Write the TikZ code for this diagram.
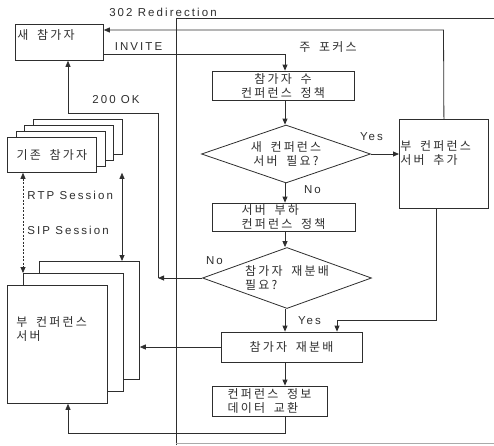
\documentclass[tikz,border=0pt]{standalone}
\usepackage{fontspec}
\setmainfont{Liberation Sans}[LetterSpace=18]
\newfontfamily\krfont{Noto Sans CJK KR}[LetterSpace=18, WordSpace=1.8]
\usetikzlibrary{positioning, arrows.meta, shapes.geometric}
\definecolor{cline}{HTML}{2E2E2E}
\definecolor{cframe}{HTML}{AAAAAA}

\begin{document}
\begin{tikzpicture}[
  x=1pt, y=-1pt, line width=0.8pt, color=cline,
  font=\fontsize{11.5}{13.5}\selectfont,
  kr/.style={font=\krfont\fontsize{12}{14}\selectfont},
  box/.style={
    draw=cline, fill=white, inner sep=0pt, kr, align=left
  },
  decision/.style={
    draw=cline, fill=white, diamond, inner sep=0pt, kr, align=#1
  },
  flow/.style={-{Triangle[length=6pt, width=5pt]}},
  flowboth/.style={{Triangle[length=6pt, width=5pt]}-{Triangle[length=6pt, width=5pt]}},
  tag/.style={inner sep=0pt}
]
\useasboundingbox (0,0) rectangle (494,445);

% ============================================================
% Main focus frame
% ============================================================
\draw[cline] (176,445) -- (176,18) -- (494,18);
\draw[cframe] (176,443) -- (494,443);
\node[tag] (redirlbl) at (163,12) {302 Redirection};
\node[tag, kr] (focuslbl) at (328,47) {주 포커스};

% ============================================================
% Left side: participants and sub servers
% ============================================================
\node[box, anchor=north west, minimum width=88pt, minimum height=36pt]
  (newp) at (15,24) {};
\node[tag, kr, anchor=west] (newplbl) at (17,35) {새 참가자};

% Existing participants (stack of 4)
\foreach \k in {3,2,1} {
  \node[box, anchor=north west, minimum width=89pt, minimum height=35pt]
    (ext\k) at (7+8.5*\k, 137-6*\k) {};
}
\node[box, anchor=north west, minimum width=89pt, minimum height=35pt, align=center]
  (ext0) at (7,137) {기존 참가자};

% Sub conference servers (stack of 3)
\foreach \k in {2,1} {
  \node[box, anchor=north west, minimum width=100pt, minimum height=118pt]
    (srv\k) at (7+16*\k, 285-12*\k) {};
}
\node[box, anchor=north west, minimum width=100pt, minimum height=118pt]
  (srv0) at (7,285) {};
\node[tag, kr, anchor=west, align=left] (srvlbl) at (16,329) {부 컨퍼런스\\서버};

% Session arrows
\coordinate (rtpx) at (23,0);
\coordinate (sipx) at (122,0);
\draw[flowboth, dashed, dash pattern=on 2pt off 1.5pt] (ext0.south -| rtpx) -- (srv1.north -| rtpx);
\draw[flowboth] (ext0.south -| sipx) -- (srv2.north -| sipx);
\node[tag, anchor=west] (rtplbl) at (27,195) {RTP Session};
\node[tag, anchor=west] (siplbl) at (27,230) {SIP Session};

% ============================================================
% Flow inside the main focus
% ============================================================
\node[box, align=center, minimum width=142pt, minimum height=29pt]
  (rule1) at (283,85.5) {참가자 수\\컨퍼런스 정책};
\node[decision=center, aspect=2.9, minimum width=169pt, minimum height=58pt]
  (dia1) at (286,154) {새 컨퍼런스\\서버 필요?};
\node[box, minimum width=143pt, minimum height=28pt]
  (rule2) at (283.5,217) {서버 부하\\컨퍼런스 정책};
\node[decision=left, aspect=2.77, minimum width=169pt, minimum height=61pt]
  (dia2) at (287,278) {참가자 재분배\\필요?};
\node[box, align=center, minimum width=141pt, minimum height=30pt]
  (redist) at (291.5,347) {참가자 재분배};
\node[box, minimum width=115pt, minimum height=30pt]
  (info) at (269.5,401) {컨퍼런스 정보\\데이터 교환};

\node[box, anchor=north west, minimum width=89pt, minimum height=89pt]
  (addsrv) at (399,119) {};
\node[tag, kr, anchor=west, align=left] (addlbl) at (400,153.5) {부 컨퍼런스\\서버 추가};

% ============================================================
% Connectors
% ============================================================
\coordinate (spine) at (285,0);
\coordinate (redir) at (443.5,30);
\coordinate (invite) at (285,54);
\coordinate (okjoin) at (158,278);
\coordinate (ok) at (68,113);
\coordinate (addjoin) at (436,320);
\coordinate (addin) at (337,320);
\coordinate (back) at (68,433);

\draw[flow] (addsrv.north) -- (redir) -- (redir -| newp.east);
\draw[flow] (invite -| newp.east) -- (invite) -- (rule1.north -| spine);
\node[tag] (invitelbl) at (138.5,47) {INVITE};

\draw[flow] (rule1.south -| spine) -- (dia1.north -| spine);
\draw[flow] (dia1.east) -- (dia1.east -| addsrv.west);
\node[tag] (yes1) at (371.5,137) {Yes};
\draw[flow] (dia1.south -| spine) -- (rule2.north -| spine);
\node[tag] (no1) at (312.5,190) {No};
\draw[flow] (rule2.south -| spine) -- (dia2.north -| spine);

\draw[flow] (dia2.west) -- (okjoin);
\draw[flow] (okjoin) -- (okjoin |- ok) -- (ok) -- (ok |- newp.south);
\node[tag] (no2) at (214.5,261) {No};
\node[tag] (oklbl) at (116,100) {200 OK};

\draw[flow] (dia2.south -| spine) -- (redist.north -| spine);
\node[tag] (yes2) at (309.5,320.5) {Yes};
\draw[flow] (addsrv.south -| addjoin) -- (addjoin) -- (addin) -- (addin |- redist.north);

\draw[flow] (redist.west) -- (redist.west -| srv2.east);
\draw[flow] (redist.south -| spine) -- (info.north -| spine);
\draw[flow] (info.south -| spine) -- (back -| spine) -- (back) -- (back |- srv0.south);

\end{tikzpicture}
\end{document}
